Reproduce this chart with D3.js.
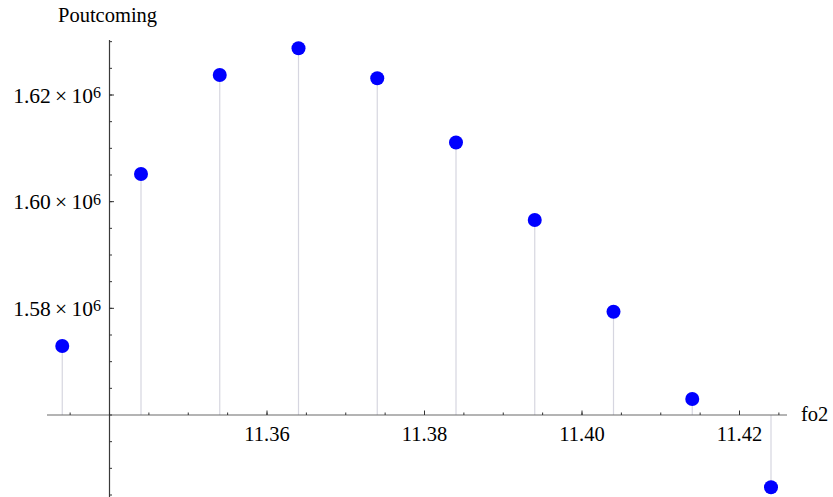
<!DOCTYPE html>
<html>
<head>
<meta charset="utf-8">
<script src="https://cdn.jsdelivr.net/npm/d3@7"></script>
<style>
html,body{margin:0;padding:0;background:#fff;}
svg{display:block;}
</style>
</head>
<body>
<svg id="chart" width="833" height="497"></svg>
<script>
const fo2 = [11.334, 11.344, 11.354, 11.364, 11.374, 11.384, 11.394, 11.404, 11.414, 11.424];
const poutcoming = [1572940, 1605190, 1623750, 1628760, 1623130, 1611090, 1596560, 1579370, 1563000, 1546440];
const xTickLabels = [11.36, 11.38, 11.40, 11.42];
const yTickLabels = [1.58e6, 1.60e6, 1.62e6];
const xMinorTicks = d3.range(11.335, 11.4251, 0.005);
const yMinorTicks = d3.range(1.545e6, 1.6301e6, 5000);

const FONT = "'Liberation Serif', 'Times New Roman', Times, 'DejaVu Serif', serif";
const svg = d3.select("#chart").attr("font-family", FONT);
const x = d3.scaleLinear().domain([11.34, 11.42]).range([109.5, 739.5]);
const y = d3.scaleLinear().domain([1.56e6, 1.62e6]).range([415, 95]);
const x0 = x(11.34), y0 = y(1.56e6);

// stems
svg.append("g").selectAll("line").data(fo2).join("line")
  .attr("x1", d => x(d)).attr("x2", d => x(d))
  .attr("y1", y0).attr("y2", (d, i) => y(poutcoming[i]))
  .attr("stroke", "#d6d6e0").attr("stroke-width", 1.2);

// axes lines
svg.append("line").attr("x1", 47).attr("x2", 787).attr("y1", y0).attr("y2", y0)
  .attr("stroke", "#6a6a6a").attr("stroke-width", 1.2);
svg.append("line").attr("x1", x0).attr("x2", x0).attr("y1", 40).attr("y2", 497)
  .attr("stroke", "#3a3a3a").attr("stroke-width", 1.2);

// x ticks
svg.append("g").selectAll("line").data(xMinorTicks).join("line")
  .attr("x1", d => x(d)).attr("x2", d => x(d))
  .attr("y1", y0).attr("y2", y0 - 2.5)
  .attr("stroke", "#333").attr("stroke-width", 1);
svg.append("g").selectAll("line").data(xTickLabels).join("line")
  .attr("x1", d => x(d)).attr("x2", d => x(d))
  .attr("y1", y0).attr("y2", y0 - 4.5)
  .attr("stroke", "#333").attr("stroke-width", 1);
svg.append("g").selectAll("text").data(xTickLabels).join("text")
  .attr("x", d => x(d)).attr("y", 441)
  .attr("text-anchor", "middle").attr("font-size", 20.5)
  .attr("font-family", FONT)
  .text(d => d.toFixed(2));

// y ticks
svg.append("g").selectAll("line").data(yMinorTicks).join("line")
  .attr("x1", x0).attr("x2", x0 + 2.5)
  .attr("y1", d => y(d)).attr("y2", d => y(d))
  .attr("stroke", "#333").attr("stroke-width", 1);
svg.append("g").selectAll("line").data(yTickLabels).join("line")
  .attr("x1", x0).attr("x2", x0 + 4.5)
  .attr("y1", d => y(d)).attr("y2", d => y(d))
  .attr("stroke", "#333").attr("stroke-width", 1);
const yl = svg.append("g").selectAll("text").data(yTickLabels).join("text")
  .attr("x", 101).attr("y", d => y(d) + 7.5)
  .attr("text-anchor", "end").attr("font-size", 21.5)
  .attr("font-family", FONT);
yl.append("tspan").text(d => (d / 1e6).toFixed(2) + "\u2009\u00d7\u200910");
yl.append("tspan").attr("font-size", 16).attr("dy", -4.5).text("6");

// points
svg.append("g").selectAll("circle").data(fo2).join("circle")
  .attr("cx", d => x(d)).attr("cy", (d, i) => y(poutcoming[i]))
  .attr("r", 7).attr("fill", "#0000ff");

// axis labels
svg.append("text").attr("x", 58).attr("y", 22).attr("font-size", 20.5)
  .attr("font-family", FONT).text("Poutcoming");
svg.append("text").attr("x", 801).attr("y", 421).attr("font-size", 20.5)
  .attr("font-family", FONT).text("fo2");
</script>
</body>
</html>
